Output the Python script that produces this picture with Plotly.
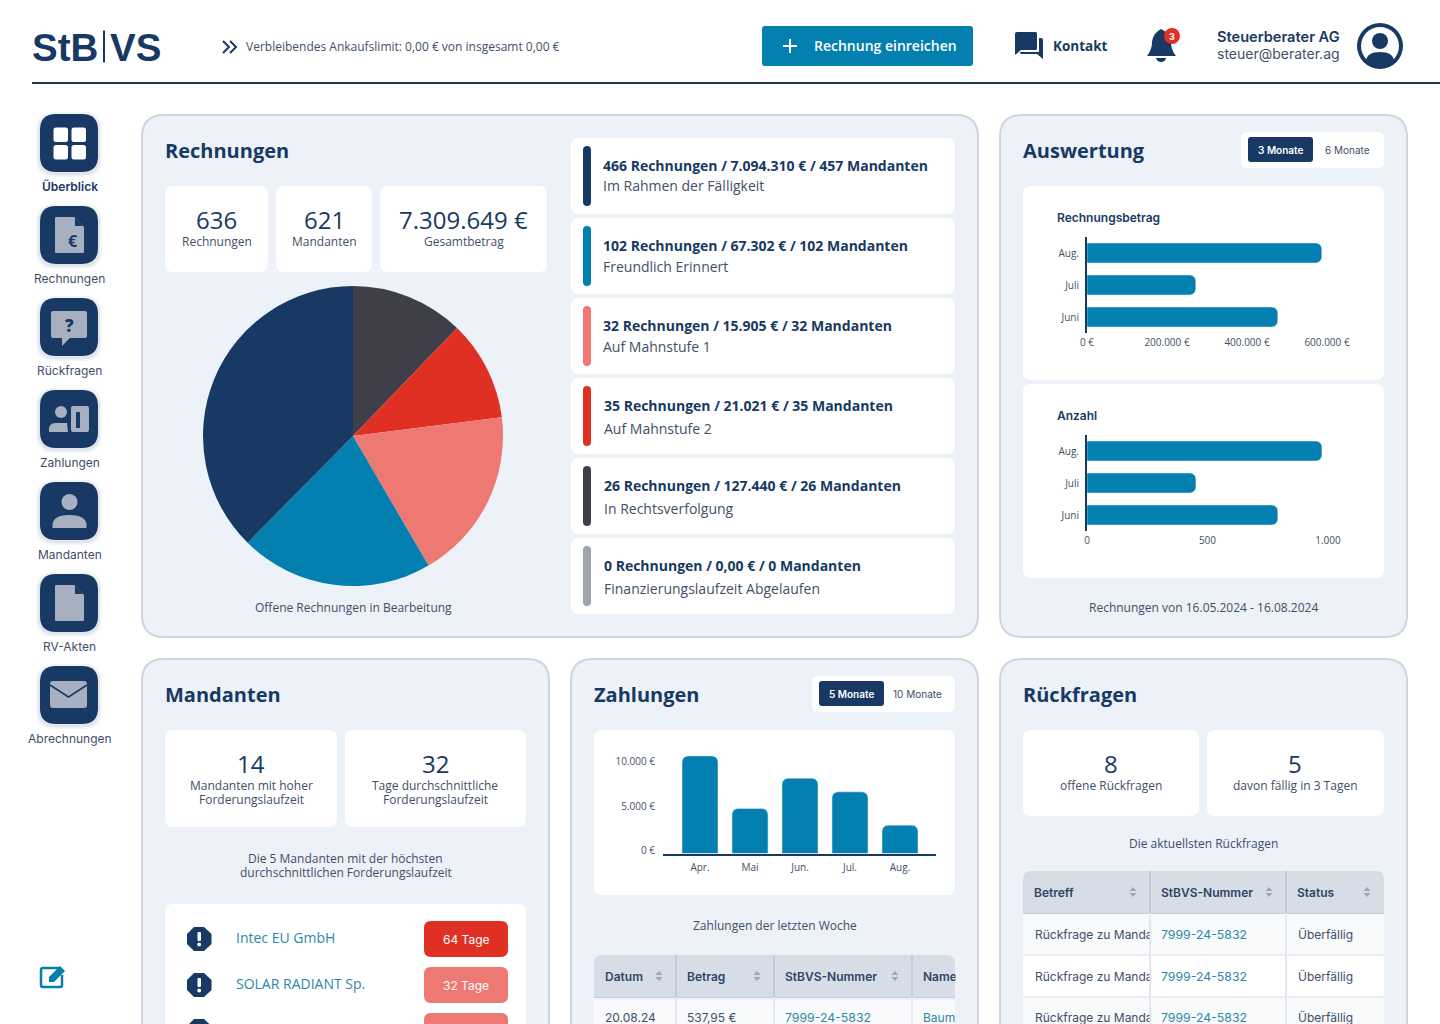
import re
import plotly.graph_objects as go

W, H = 1440, 1024
NAVY = "#183963"
BLUE = "#0480b0"
RED = "#e03024"
SALMON = "#ee7872"
DARK = "#3f3f4a"
GREY = "#a0a4ad"
ICON = "#a6b0c0"
PANEL = "#edf1f8"
BORDER = "#cfd5df"
BODY = "#3f4f68"
LINK = "#2f86a8"
HEAD = "#d7dde7"
SEP = "#e4e7ed"
ROW = "#f8fafc"
SANS = "Open Sans"
INTER = "Inter"

# pie
status_labels = ["In Rechtsverfolgung", "Auf Mahnstufe 2", "Auf Mahnstufe 1", "Freundlich Erinnert", "Im Rahmen der Fälligkeit"]
status_shares = [12.2, 10.8, 18.6, 20.8, 37.6]
status_colors = [DARK, RED, SALMON, BLUE, NAVY]

# status list
list_titles = [
    "466 Rechnungen / 7.094.310 € / 457 Mandanten",
    "102 Rechnungen / 67.302 € / 102 Mandanten",
    "32 Rechnungen / 15.905 € / 32 Mandanten",
    "35 Rechnungen / 21.021 € / 35 Mandanten",
    "26 Rechnungen / 127.440 € / 26 Mandanten",
    "0 Rechnungen / 0,00 € / 0 Mandanten",
]
list_subtitles = ["Im Rahmen der Fälligkeit", "Freundlich Erinnert", "Auf Mahnstufe 1", "Auf Mahnstufe 2", "In Rechtsverfolgung", "Finanzierungslaufzeit Abgelaufen"]
list_colors = [NAVY, BLUE, SALMON, RED, DARK, GREY]

# horizontal bars
months_3 = ["Juni", "Juli", "Aug."]
betrag_values = [477000, 272000, 587000]
betrag_ticks = [0, 200000, 400000, 600000]
betrag_ticktext = ["0 €", "200.000 €", "400.000 €", "600.000 €"]
anzahl_values = [792, 452, 975]
anzahl_ticks = [0, 500, 1000]
anzahl_ticktext = ["0", "500", "1.000"]

# vertical bars
months_5 = ["Apr.", "Mai", "Jun.", "Jul.", "Aug."]
zahlungen_values = [11000, 5070, 8490, 6950, 3190]
zahlungen_ticks = [0, 5000, 10000]
zahlungen_ticktext = ["0 €", "5.000 €", "10.000 €"]

nav_labels = ["Überblick", "Rechnungen", "Rückfragen", "Zahlungen", "Mandanten", "RV-Akten", "Abrechnungen"]

shapes = []
notes = []


def fx(x):
    return x / W


def fy(y):
    return 1 - y / H


def conv(path):
    # pixel path -> paper path
    tokens = re.findall(r"[A-Za-z]|-?[\d.]+", path)
    out, is_x = [], True
    for t in tokens:
        if t.isalpha():
            out.append(t)
            is_x = True
        else:
            out.append(f"{fx(float(t)) if is_x else fy(float(t)):.6f}")
            is_x = not is_x
    return " ".join(out)


def shape_path(path, fill=None, line=None, lw=0, opacity=1):
    shapes.append(dict(type="path", path=conv(path), xref="paper", yref="paper", fillcolor=fill or "rgba(0,0,0,0)",
                       line=dict(color=line or "rgba(0,0,0,0)", width=lw), opacity=opacity, layer="below"))


def rrect(x0, y0, x1, y1, r, fill, line=None, lw=0, opacity=1, top_only=False):
    b = 0 if top_only else r
    p = (f"M {x0 + r} {y0} L {x1 - r} {y0} Q {x1} {y0} {x1} {y0 + r} L {x1} {y1 - b} Q {x1} {y1} {x1 - b} {y1} "
         f"L {x0 + b} {y1} Q {x0} {y1} {x0} {y1 - b} L {x0} {y0 + r} Q {x0} {y0} {x0 + r} {y0} Z")
    shape_path(p, fill, line, lw, opacity)


def circle(cx, cy, r, fill):
    shapes.append(dict(type="circle", xref="paper", yref="paper", x0=fx(cx - r), x1=fx(cx + r), y0=fy(cy + r), y1=fy(cy - r),
                       fillcolor=fill, line=dict(width=0), layer="below"))


def seg(x0, y0, x1, y1, color, lw):
    shapes.append(dict(type="line", xref="paper", yref="paper", x0=fx(x0), x1=fx(x1), y0=fy(y0), y1=fy(y1),
                       line=dict(color=color, width=lw), layer="below"))


def txt(x, y, text, size=12, color=BODY, anchor="left", weight=400, family=SANS):
    # annotations sit about a pixel off from the text box
    if anchor == "left":
        x -= 1
    elif anchor == "right":
        x += 1.5
    if size >= 13:
        y -= 1
    notes.append(dict(x=fx(x), y=fy(y), xref="paper", yref="paper", text=text, showarrow=False, xanchor=anchor, yanchor="middle",
                      borderpad=0, font=dict(family=family, size=size, color=color, weight=weight)))


def mask(x0, y0, x1, y1, color):
    # hides the tail of text that runs past a table edge
    notes.append(dict(x=fx(x0), y=fy(y0), xref="paper", yref="paper", text=" ", showarrow=False, xanchor="left", yanchor="top",
                      width=x1 - x0, height=y1 - y0, bgcolor=color, borderpad=0, font=dict(size=8)))


def sort_icon(x, y):
    shape_path(f"M {x} {y - 5} L {x + 3.5} {y - 1} L {x - 3.5} {y - 1} Z", "#a0a8b4")
    shape_path(f"M {x} {y + 5} L {x + 3.5} {y + 1} L {x - 3.5} {y + 1} Z", "#a0a8b4")


# header
txt(32, 48, "StB", 38.5, NAVY, weight=700, family="Liberation Sans")
seg(104, 30.5, 104, 62.5, NAVY, 2)
txt(110, 48, "VS", 38.5, NAVY, weight=700, family="Liberation Sans")
shape_path("M 223 41 L 229 47 L 223 53", None, NAVY, 2)
shape_path("M 230 41 L 236 47 L 230 53", None, NAVY, 2)
txt(246, 46.5, "Verbleibendes Ankaufslimit: 0,00 € von insgesamt 0,00 €", 12)
seg(32, 83, W, 83, "#17395a", 2)
rrect(762, 26, 973, 66, 3, BLUE)
seg(783, 46, 797, 46, "#ffffff", 2)
seg(790, 39, 790, 53, "#ffffff", 2)
txt(814, 46, "Rechnung einreichen", 14, "#ffffff", weight=600)
shape_path("M 1017 32 L 1036 32 Q 1037 32 1037 34 L 1037 48 Q 1037 50 1036 50 L 1021 50 L 1015 55 L 1015 34 Q 1015 32 1017 32 Z", NAVY)
shape_path("M 1039 38 L 1041 38 Q 1043 38 1043 40 L 1043 59 L 1037 54 L 1021 54 Q 1020 54 1020 52 L 1039 52 Z", NAVY)
txt(1053, 47, "Kontakt", 13.5, NAVY, weight=700)
shape_path("M 1161 29 Q 1153 33 1152 42 Q 1152 50 1147 56 L 1176 56 Q 1171 50 1171 42 Q 1170 33 1161 29 Z", NAVY)
shape_path("M 1156 58 L 1166 58 Q 1165 62 1161 62 Q 1157 62 1156 58 Z", NAVY)
circle(1172, 36, 8, RED)
txt(1172, 36, "3", 9, "#ffffff", "center", 700, INTER)
txt(1339, 38, "Steuerberater AG", 14.6, NAVY, "right", 600, INTER)
txt(1339, 54, "steuer@berater.ag", 14, BODY, "right", 400, INTER)
circle(1380, 46, 23, NAVY)
circle(1380, 46, 19, "#ffffff")
circle(1380, 41, 8, NAVY)
shape_path("M 1366 61 Q 1367 52 1380 52 Q 1393 52 1394 61 Q 1388 66 1380 66 Q 1372 66 1366 61 Z", NAVY)

# sidebar
for i, label in enumerate(nav_labels):
    top = 114 + 92 * i
    rrect(36, top - 2, 102, top + 63, 18, NAVY, opacity=0.05)
    rrect(38, top, 100, top + 61, 17, NAVY, opacity=0.08)
    rrect(40, top, 98, top + 58, 16, NAVY)
    bold = i == 0
    txt(69.5, top + 72.5, label, 12, NAVY if bold else BODY, "center", 600 if bold else 400, INTER)

for x, y in [(53.5, 127.5), (71.5, 127.5), (53.5, 145), (71.5, 145)]:
    rrect(x, y, x + 14.5, y + 14.5, 2.5, "#ffffff")
shape_path("M 56 217 L 74 217 L 84 227 L 84 252 Q 84 253 83 253 L 56 253 Q 55 253 55 252 L 55 218 Q 55 217 56 217 Z", ICON)
shape_path("M 75 218 L 83 226 L 75 226 Z", NAVY)
txt(73, 242, "€", 16, NAVY, "center", 700)
shape_path("M 53 311 L 85 311 Q 87 311 87 313 L 87 336 Q 87 338 85 338 L 70 338 L 62 346 L 62 338 L 53 338 Q 51 338 51 336 L 51 313 Q 51 311 53 311 Z", ICON)
txt(69, 326, "?", 17, NAVY, "center", 800)
circle(61, 412, 6, ICON)
shape_path("M 49 432 L 49 428 Q 50 423 56 423 L 67 423 L 68 432 Z", ICON)
rrect(71, 406, 89, 432, 2, ICON)
rrect(76, 412, 80, 428, 0.5, NAVY)
circle(69.5, 502, 8, ICON)
shape_path("M 52.5 528 L 52.5 524 Q 54 515 69.5 515 Q 85 515 86.5 524 L 86.5 528 Z", ICON)
shape_path("M 56 585 L 74 585 L 84 595 L 84 620 Q 84 621 83 621 L 56 621 Q 55 621 55 620 L 55 586 Q 55 585 56 585 Z", ICON)
shape_path("M 75 586 L 83 594 L 75 594 Z", NAVY)
rrect(50, 681, 87, 708, 3, ICON)
shape_path("M 50 685 L 68.5 697 L 87 685", None, NAVY, 1.5)

# edit icon
shape_path("M 59 968 L 43 968 Q 41 968 41 970 L 41 985 Q 41 987 43 987 L 60 987 Q 62 987 62 985 L 62 975", None, BLUE, 2.5)
shape_path("M 49 977 L 60 966 L 65 971 L 54 982 L 49 982 Z", BLUE)

# panels
for x0, y0, x1, y1 in [(142, 115, 978, 637), (1000, 115, 1407, 637), (142, 659, 549, 1070), (571, 659, 978, 1070), (1000, 659, 1407, 1070)]:
    rrect(x0, y0, x1, y1, 22, PANEL, BORDER, 2)

# Rechnungen panel
txt(165, 151, "Rechnungen", 20, NAVY, weight=700)
for (x0, x1), num, label in zip([(165, 268), (276, 372), (380, 547)], ["636", "621", "7.309.649 €"], ["Rechnungen", "Mandanten", "Gesamtbetrag"]):
    rrect(x0, 186, x1, 272, 8, "#ffffff")
    txt((x0 + x1) / 2, 220, num, 24, NAVY, "center", 500)
    txt((x0 + x1) / 2, 241.5, label, 12, BODY, "center")
sub_y = [186, 267, 347, 429, 509, 589]
for i in range(6):
    top = 138 + 80 * i
    rrect(571, top, 955, top + 76, 8, "#ffffff")
    rrect(583, top + 8, 591, top + 68, 4, list_colors[i])
    tx = 603 if i < 3 else 604
    txt(tx, top + 28, list_titles[i], 14, NAVY, weight=700)
    txt(tx, sub_y[i], list_subtitles[i], 14, BODY)
txt(353, 607, "Offene Rechnungen in Bearbeitung", 12, BODY, "center")

# Auswertung panel
txt(1023, 151, "Auswertung", 20, NAVY, weight=700)
rrect(1241, 132, 1384, 168, 6, "#ffffff")
rrect(1248, 137, 1313, 162, 3, NAVY)
txt(1280.5, 149.5, "3 Monate", 10, "#ffffff", "center", 600, INTER)
txt(1347, 150, "6 Monate", 10, BODY, "center", 400, INTER)
rrect(1023, 186, 1384, 380, 8, "#ffffff")
rrect(1023, 384, 1384, 578, 8, "#ffffff")
txt(1057, 217.5, "Rechnungsbetrag", 12, NAVY, weight=600, family=INTER)
txt(1057, 415.5, "Anzahl", 12, NAVY, weight=600, family=INTER)
txt(1203.5, 607, "Rechnungen von 16.05.2024 - 16.08.2024", 12, BODY, "center")

# Mandanten panel
txt(165, 695, "Mandanten", 20, NAVY, weight=700)
rrect(165, 730, 337, 827, 8, "#ffffff")
rrect(345, 730, 526, 827, 8, "#ffffff")
txt(251, 764, "14", 24, NAVY, "center", 500)
txt(251, 785.5, "Mandanten mit hoher", 12, BODY, "center")
txt(251, 799, "Forderungslaufzeit", 12, BODY, "center")
txt(435, 764, "32", 24, NAVY, "center", 500)
txt(435, 785.5, "Tage durchschnittliche", 12, BODY, "center")
txt(435, 799, "Forderungslaufzeit", 12, BODY, "center")
txt(345.5, 858.5, "Die 5 Mandanten mit der höchsten", 12, BODY, "center")
txt(345.5, 872.5, "durchschnittlichen Forderungslaufzeit", 12, BODY, "center")
rrect(165, 904, 526, 1070, 8, "#ffffff")
for cy in [939, 985, 1031]:
    shape_path(f"M 194 {cy - 12} L 204 {cy - 12} L 211.5 {cy - 5} L 211.5 {cy + 5} L 204 {cy + 12} L 194 {cy + 12} "
               f"L 187 {cy + 5} L 187 {cy - 5} Z", NAVY)
    rrect(197.5, cy - 7, 201, cy + 2, 1, "#ffffff")
    circle(199.2, cy + 5.5, 1.9, "#ffffff")
txt(236, 938, "Intec EU GmbH", 14, LINK)
txt(236, 984, "SOLAR RADIANT Sp.", 14, LINK)
rrect(424, 921, 508, 957, 7, RED)
rrect(424, 967, 508, 1003, 7, SALMON)
rrect(424, 1013, 508, 1049, 7, SALMON)
txt(466, 939, "64 Tage", 12, "#ffffff", "center", 400, INTER)
txt(466, 985, "32 Tage", 12, "#ffffff", "center", 400, INTER)

# Zahlungen panel
txt(594, 695, "Zahlungen", 20, NAVY, weight=700)
rrect(812, 676, 955, 712, 6, "#ffffff")
rrect(819, 681, 884, 706, 3, NAVY)
txt(851.5, 693.5, "5 Monate", 10, "#ffffff", "center", 600, INTER)
txt(918, 694, "10 Monate", 10, BODY, "center", 400, INTER)
rrect(594, 730, 955, 895, 8, "#ffffff")
txt(774.5, 925.5, "Zahlungen der letzten Woche", 12, BODY, "center")

rrect(594, 1000, 955, 1070, 0, ROW)
rrect(594, 955, 955, 997, 8, HEAD, top_only=True)
seg(594, 997.5, 955, 997.5, "#c8ced9", 1)
for x in [676, 774, 912]:
    seg(x, 955, x, 997, "#c3cad6", 2)
    seg(x, 997, x, 1024, SEP, 2)
for x, label in zip([605, 687, 785, 923], ["Datum", "Betrag", "StBVS-Nummer", "Name"]):
    txt(x, 976, label, 12, "#2e4464", weight=600, family=INTER)
for x in [659, 757, 895]:
    sort_icon(x, 976)
txt(605, 1017, "20.08.24", 12, BODY, family=INTER)
txt(687, 1017, "537,95 €", 12, BODY, family=INTER)
txt(785, 1017, "7999-24-5832", 12.3, LINK, family=INTER)
txt(923, 1017, "Baum", 12, LINK, family=INTER)
mask(955, 968, 965, 984, PANEL)
mask(955, 1010, 965, 1024, PANEL)

# Rückfragen panel
txt(1023, 695, "Rückfragen", 20, NAVY, weight=700)
rrect(1023, 730, 1199, 816, 8, "#ffffff")
rrect(1207, 730, 1384, 816, 8, "#ffffff")
txt(1111, 764, "8", 24, NAVY, "center", 500)
txt(1111, 785.5, "offene Rückfragen", 12, BODY, "center")
txt(1295, 764, "5", 24, NAVY, "center", 500)
txt(1295, 785.5, "davon fällig in 3 Tagen", 12, BODY, "center")
txt(1203.5, 843.5, "Die aktuellsten Rückfragen", 12, BODY, "center")

rrect(1023, 913, 1384, 955, 0, ROW)
rrect(1023, 955, 1384, 997, 0, "#ffffff")
rrect(1023, 997, 1384, 1070, 0, ROW)
rrect(1023, 871, 1384, 913, 8, HEAD, top_only=True)
seg(1023, 913.5, 1384, 913.5, "#c8ced9", 1)
for y in [955, 997]:
    seg(1023, y, 1384, y, SEP, 1.5)
for x in [1150, 1286]:
    seg(x, 871, x, 913, "#c3cad6", 2)
    seg(x, 913, x, 1024, SEP, 2)
for x, label in zip([1034, 1161, 1297], ["Betreff", "StBVS-Nummer", "Status"]):
    txt(x, 892, label, 12, "#2e4464", weight=600, family=INTER)
for x in [1133, 1269, 1367]:
    sort_icon(x, 892)
for y, row_color in zip([934, 976, 1017], [ROW, "#ffffff", ROW]):
    txt(1035, y, "Rückfrage zu Manda", 12, BODY, family=INTER)
    mask(1149, y - 8, 1151, min(y + 8, 1024), SEP)
    mask(1151, y - 8, 1160, min(y + 8, 1024), row_color)
    txt(1161, y, "7999-24-5832", 12.3, LINK, family=INTER)
    txt(1298, y, "Überfällig", 12, BODY, family=INTER)

fig = go.Figure()
fig.add_trace(go.Pie(labels=status_labels, values=status_shares, sort=False, direction="clockwise", rotation=0,
                     marker=dict(colors=status_colors, line=dict(width=0)), textinfo="none", showlegend=False,
                     domain=dict(x=[fx(203), fx(503)], y=[fy(586), fy(286)])))
fig.add_trace(go.Bar(y=months_3, x=betrag_values, orientation="h", marker=dict(color=BLUE, cornerradius=6), xaxis="x", yaxis="y", showlegend=False))
fig.add_trace(go.Bar(y=months_3, x=anzahl_values, orientation="h", marker=dict(color=BLUE, cornerradius=6), xaxis="x2", yaxis="y2", showlegend=False))
fig.add_trace(go.Bar(x=months_5, y=zahlungen_values, width=0.72, marker=dict(color=BLUE, cornerradius=6), xaxis="x3", yaxis="y3", showlegend=False))

tick_font = dict(family=SANS, size=10, color=BODY)


def hide_tick():
    return dict(ticks="outside", tickcolor="rgba(0,0,0,0)", tickfont=tick_font, showgrid=False, zeroline=False)


fig.update_layout(
    width=W, height=H, margin=dict(l=0, r=0, t=0, b=0, autoexpand=False), paper_bgcolor="#ffffff", plot_bgcolor="rgba(0,0,0,0)",
    bargap=0.375, shapes=shapes, annotations=notes, showlegend=False,
    xaxis=dict(domain=[fx(1087), fx(1340)], range=[0, 632500], tickvals=betrag_ticks, ticktext=betrag_ticktext, ticklen=0, anchor="y", **hide_tick()),
    yaxis=dict(domain=[fy(333), fy(237)], type="category", range=[-0.5, 2.5], ticklen=4, showline=True, linecolor=NAVY, linewidth=2, anchor="x", **hide_tick()),
    xaxis2=dict(domain=[fx(1087), fx(1340)], range=[0, 1050], tickvals=anzahl_ticks, ticktext=anzahl_ticktext, ticklen=0, anchor="y2", **hide_tick()),
    yaxis2=dict(domain=[fy(531), fy(435)], type="category", range=[-0.5, 2.5], ticklen=4, showline=True, linecolor=NAVY, linewidth=2, anchor="x2", **hide_tick()),
    xaxis3=dict(domain=[fx(663), fx(936)], type="category", range=[-0.74, 4.72], ticklen=3, showline=True, linecolor=NAVY, linewidth=2, anchor="y3", **hide_tick()),
    yaxis3=dict(domain=[fy(853.5), fy(745)], range=[0, 12232], tickvals=zahlungen_ticks, ticktext=zahlungen_ticktext, ticklen=5, ticklabelshift=-3, anchor="x3", **hide_tick()),
)
fig.write_html("out.html", config=dict(displayModeBar=False), post_script="document.body.style.margin='0';")
